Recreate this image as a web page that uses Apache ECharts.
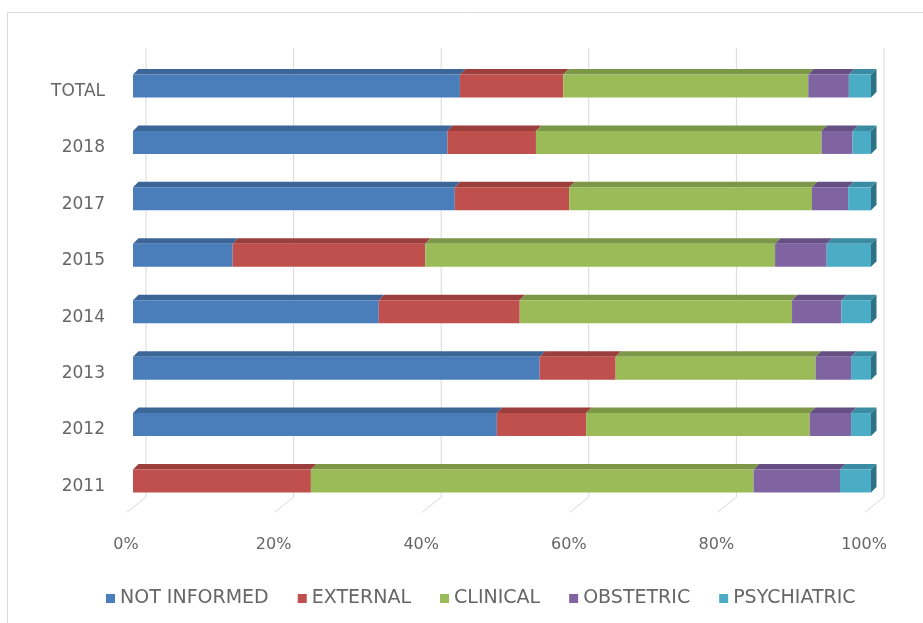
<!DOCTYPE html>
<html>
<head>
<meta charset="utf-8">
<script src="https://cdn.jsdelivr.net/npm/echarts@6/dist/echarts.min.js"></script>
<style>
  html, body { margin: 0; padding: 0; background: #ffffff; }
  #chart { width: 923px; height: 623px; }
</style>
</head>
<body>
<div id="chart"></div>
<script>
// Share of cases by cause, per year (percent of each year's total)
const categories = ['TOTAL', '2018', '2017', '2015', '2014', '2013', '2012', '2011'];
const notInformed = [44.3, 42.6, 43.6, 13.5, 33.3, 55.1, 49.3, 0];
const external    = [14.0, 12.0, 15.5, 26.1, 19.1, 10.3, 12.1, 24.1];
const clinical    = [33.2, 38.7, 32.9, 47.4, 36.9, 27.1, 30.3, 60.0];
const obstetric   = [5.5, 4.2, 4.9, 7.0, 6.7, 4.8, 5.6, 11.7];
const psychiatric = [3.0, 2.5, 3.1, 6.0, 4.0, 2.7, 2.7, 4.2];
const xTicks = [0, 20, 40, 60, 80, 100];

const seriesNames = ['NOT INFORMED', 'EXTERNAL', 'CLINICAL', 'OBSTETRIC', 'PSYCHIATRIC'];
const seriesValues = [notInformed, external, clinical, obstetric, psychiatric];

// front / top / side shades for the extruded bars
const shades = [
  { front: '#4a7ebb', top: '#3b6697', side: '#33597f' },
  { front: '#c0504d', top: '#9c3f3c', side: '#833432' },
  { front: '#9bbb59', top: '#7c9747', side: '#687e3b' },
  { front: '#8064a2', top: '#665083', side: '#55436e' },
  { front: '#4bacc6', top: '#3a8ca2', side: '#2d7285' }
];

const BAR_H = 23;   // front face height
const DEPTH = 5.5;  // extrusion offset

// cumulative start/end for each stacked segment
const cumulative = categories.map(() => 0);
const stackedData = seriesValues.map(vals =>
  vals.map((v, i) => {
    const start = cumulative[i];
    cumulative[i] += v;
    return [start, i, start + v];
  })
);

function makeBarRenderer(sIdx, isLast) {
  const c = shades[sIdx];
  return function (params, api) {
    const start = api.value(0), cat = api.value(1), end = api.value(2);
    if (end - start <= 0) return null;
    const p0 = api.coord([start, cat]);
    const p1 = api.coord([end, cat]);
    const x0 = p0[0], x1 = p1[0];
    const yTop = p0[1] - BAR_H / 2, yBot = yTop + BAR_H;
    const children = [
      {
        type: 'polygon',
        shape: { points: [[x0, yTop], [x1, yTop], [x1 + DEPTH, yTop - DEPTH], [x0 + DEPTH, yTop - DEPTH]] },
        style: { fill: c.top }
      },
      {
        type: 'rect',
        shape: { x: x0, y: yTop, width: x1 - x0, height: BAR_H },
        style: { fill: c.front }
      }
    ];
    if (isLast) {
      children.push({
        type: 'polygon',
        shape: { points: [[x1, yTop], [x1 + DEPTH, yTop - DEPTH], [x1 + DEPTH, yBot - DEPTH], [x1, yBot]] },
        style: { fill: c.side }
      });
    }
    return { type: 'group', children: children };
  };
}

// back-wall gridlines running into the floor
function renderGrid(params, api) {
  const cs = params.coordSys;
  const x = api.coord([api.value(0), 0])[0];
  const backTop = cs.y - 10;
  const backBottom = cs.y + cs.height - 12;
  const floorFront = cs.y + cs.height + 3;
  return {
    type: 'polyline',
    shape: { points: [[x + 13, backTop], [x + 13, backBottom], [x - 6, floorFront]] },
    style: { stroke: '#d9d9d9', lineWidth: 1, fill: null }
  };
}

const textColor = '#666666';
const fontFamily = 'DejaVu Sans';

const series = [{
  type: 'custom',
  name: 'grid',
  silent: true,
  z: 1,
  renderItem: renderGrid,
  encode: { x: 0, y: 1 },
  data: xTicks.map(t => [t, 0])
}];
seriesNames.forEach((name, s) => {
  series.push({
    type: 'custom',
    name: name,
    z: 2 + s,
    itemStyle: { color: shades[s].front },
    renderItem: makeBarRenderer(s, s === seriesNames.length - 1),
    encode: { x: [0, 2], y: 1 },
    data: stackedData[s]
  });
});

const chart = echarts.init(document.getElementById('chart'));
chart.setOption({
  animation: false,
  backgroundColor: '#ffffff',
  graphic: [{
    type: 'rect',
    shape: { x: 7.5, y: 12.5, width: 940, height: 700 },
    style: { fill: null, stroke: '#d9d9d9', lineWidth: 1 },
    silent: true
  }],
  grid: { left: 133, right: 52, top: 57.8, bottom: 113.8 },
  xAxis: {
    type: 'value',
    min: 0,
    max: 100,
    interval: 20,
    axisLine: { show: false },
    axisTick: { show: false },
    splitLine: { show: false },
    axisLabel: {
      formatter: '{value}%',
      color: textColor,
      fontFamily: fontFamily,
      fontSize: 16,
      margin: 28,
      padding: [0, 14, 0, 0]
    }
  },
  yAxis: {
    type: 'category',
    inverse: true,
    data: categories,
    axisLine: { show: false },
    axisTick: { show: false },
    axisLabel: {
      color: textColor,
      fontFamily: fontFamily,
      fontSize: 17,
      margin: 28,
      verticalAlign: 'top',
      lineHeight: 11
    }
  },
  legend: {
    data: seriesNames,
    top: 584,
    left: 101,
    icon: 'rect',
    itemWidth: 9,
    itemHeight: 9,
    itemGap: 29,
    textStyle: { color: textColor, fontFamily: fontFamily, fontSize: 19 }
  },
  series: series
});
</script>
</body>
</html>
